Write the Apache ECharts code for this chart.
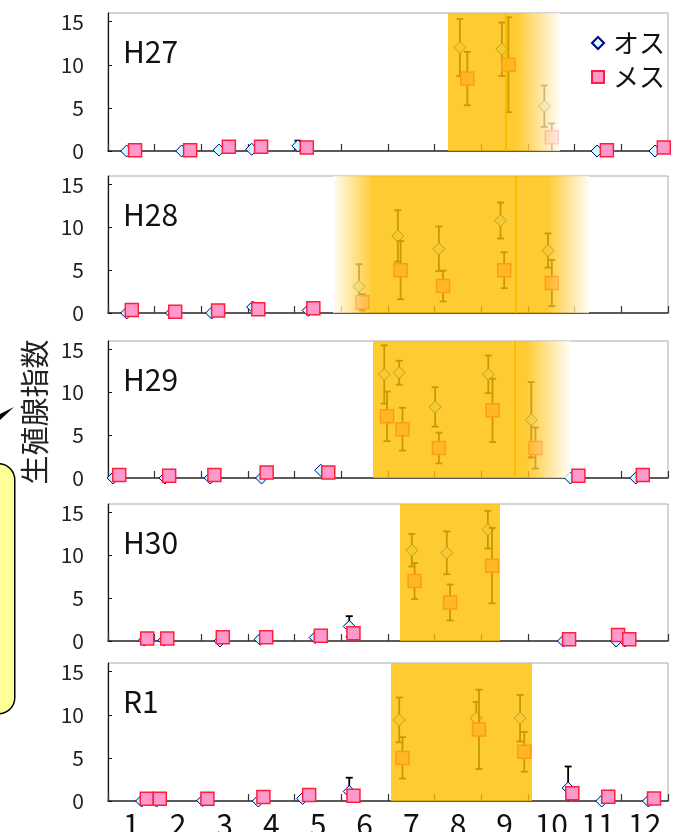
<!DOCTYPE html>
<html>
<head>
<meta charset="utf-8">
<title>生殖腺指数</title>
<script src="https://cdn.jsdelivr.net/npm/echarts@6/dist/echarts.min.js"></script>
<style>
html, body { margin: 0; padding: 0; background: #fff; }
#chart { width: 687px; height: 832px; }
</style>
</head>
<body>
<div id="chart"></div>
<script>
// 月ラベル
var monthLabels = ['1', '2', '3', '4', '5', '6', '7', '8', '9', '10', '11', '12'];
var panelNames = ['H27', 'H28', 'H29', 'H30', 'R1'];

// x = 月（0〜12、目盛りは月の境目）, y = 生殖腺指数, sd = 誤差
var h27MaleX = [0.40, 1.58, 2.38, 3.08, 4.07, 7.54, 8.44, 9.35, 10.48, 11.72];
var h27MaleY = [0.0, 0.0, 0.1, 0.2, 0.6, 12.0, 11.8, 5.2, 0.0, 0.0];
var h27MaleSd = [0, 0, 0, 0, 0.6, 3.3, 3.1, 2.4, 0, 0];
var h27FemaleX = [0.58, 1.76, 2.59, 3.28, 4.26, 7.70, 8.58, 9.51, 10.69, 11.91];
var h27FemaleY = [0.1, 0.1, 0.5, 0.5, 0.4, 8.4, 10.0, 1.6, 0.1, 0.4];
var h27FemaleSd = [0, 0, 0, 0, 0, 3.1, 5.5, 1.6, 0, 0];

var h28MaleX = [0.40, 1.36, 2.22, 3.10, 4.29, 5.38, 6.21, 7.09, 8.41, 9.43];
var h28MaleY = [0.0, 0.0, 0.0, 0.7, 0.3, 3.1, 9.0, 7.5, 10.8, 7.3];
var h28MaleSd = [0, 0, 0, 0, 0, 2.6, 3.0, 2.6, 2.1, 2.0];
var h28FemaleX = [0.51, 1.44, 2.36, 3.22, 4.40, 5.45, 6.27, 7.18, 8.49, 9.51];
var h28FemaleY = [0.35, 0.15, 0.3, 0.45, 0.55, 1.25, 5.0, 3.15, 5.0, 3.5];
var h28FemaleSd = [0, 0, 0, 0, 0, 0.95, 3.4, 1.8, 2.1, 2.7];

var h29MaleX = [0.11, 1.22, 2.19, 3.29, 4.56, 5.92, 6.24, 7.01, 8.15, 9.07, 9.91, 11.31];
var h29MaleY = [0.0, 0.0, 0.0, 0.0, 0.9, 12.1, 12.3, 8.3, 12.1, 6.8, 0.0, 0.0];
var h29MaleSd = [0, 0, 0, 0, 0, 3.4, 1.4, 2.3, 2.2, 4.4, 0, 0];
var h29FemaleX = [0.24, 1.31, 2.28, 3.40, 4.72, 5.98, 6.31, 7.09, 8.24, 9.16, 10.08, 11.46];
var h29FemaleY = [0.35, 0.25, 0.35, 0.65, 0.65, 7.2, 5.7, 3.5, 7.9, 3.5, 0.25, 0.35];
var h29FemaleSd = [0, 0, 0, 0, 0, 2.9, 2.5, 1.8, 3.7, 2.4, 0, 0];

var h30MaleX = [0.78, 1.20, 2.40, 3.26, 4.44, 5.17, 6.51, 7.26, 8.14, 9.76, 10.89, 11.08];
var h30MaleY = [0.1, 0.1, 0.0, 0.2, 0.4, 1.7, 10.6, 10.3, 13.0, 0.0, 0.0, 0.0];
var h30MaleSd = [0, 0, 0, 0, 0, 1.2, 1.9, 2.5, 2.2, 0, 0, 0];
var h30FemaleX = [0.84, 1.27, 2.46, 3.39, 4.56, 5.26, 6.57, 7.33, 8.23, 9.88, 10.93, 11.17];
var h30FemaleY = [0.3, 0.3, 0.45, 0.45, 0.6, 0.9, 7.0, 4.5, 8.8, 0.2, 0.7, 0.2];
var h30FemaleSd = [0, 0, 0, 0, 0, 0, 2.1, 2.1, 4.4, 0, 0, 0];

var r1MaleX = [0.72, 1.04, 2.03, 3.22, 4.17, 5.17, 6.24, 7.89, 8.83, 9.86, 10.58, 11.58];
var r1MaleY = [0.0, 0.0, 0.05, 0.0, 0.3, 1.1, 9.4, 9.6, 9.6, 1.5, 0.0, 0.0];
var r1MaleSd = [0, 0, 0, 0, 0, 1.6, 2.6, 1.9, 2.7, 2.5, 0, 0];
var r1FemaleX = [0.83, 1.11, 2.13, 3.33, 4.31, 5.26, 6.31, 7.95, 8.92, 9.95, 10.72, 11.70];
var r1FemaleY = [0.25, 0.25, 0.25, 0.45, 0.7, 0.6, 5.0, 8.3, 5.7, 0.9, 0.5, 0.3];
var r1FemaleSd = [0, 0, 0, 0, 0, 0, 2.4, 4.6, 2.3, 0, 0, 0];

// 産卵期の網掛け [開始, 終了, 種類]
var h27Shade = [[7.29, 8.53, 'solid'], [8.53, 9.69, 'fadeOut'], [8.53, 8.53, 'edge']];
var h28Shade = [[4.82, 5.68, 'fadeIn'], [5.68, 9.20, 'solid'], [9.20, 10.30, 'fadeOut'], [8.74, 8.74, 'edge']];
var h29Shade = [[5.68, 8.73, 'solid'], [8.73, 9.90, 'fadeOut'], [8.73, 8.73, 'edge']];
var h30Shade = [[6.26, 8.41, 'solid']];
var r1Shade = [[6.06, 9.08, 'solid']];

var maleX = [h27MaleX, h28MaleX, h29MaleX, h30MaleX, r1MaleX];
var maleY = [h27MaleY, h28MaleY, h29MaleY, h30MaleY, r1MaleY];
var maleSd = [h27MaleSd, h28MaleSd, h29MaleSd, h30MaleSd, r1MaleSd];
var femaleX = [h27FemaleX, h28FemaleX, h29FemaleX, h30FemaleX, r1FemaleX];
var femaleY = [h27FemaleY, h28FemaleY, h29FemaleY, h30FemaleY, r1FemaleY];
var femaleSd = [h27FemaleSd, h28FemaleSd, h29FemaleSd, h30FemaleSd, r1FemaleSd];
var shades = [h27Shade, h28Shade, h29Shade, h30Shade, r1Shade];

var FONT = "'Noto Sans CJK JP', 'Noto Sans', sans-serif";
var gridTops = [13, 176, 341, 504, 663];
var gridHeights = [138, 137, 137, 137, 138];
var ORANGE = 'rgba(255,190,0,0.8)';
var FADE_WHITE = 'rgba(255,252,245,0.8)';

function toPoints(xs, ys, sds) {
	var out = [];
	for (var i = 0; i < xs.length; i++) {
		out.push([xs[i], ys[i], sds[i]]);
	}
	return out;
}

// 誤差範囲
function renderErrorBar(params, api) {
	var sd = api.value(2);
	if (!sd) {
		return null;
	}
	var x = api.value(0);
	var y = api.value(1);
	var low = Math.max(0, y - sd);
	var top = api.coord([x, y + sd]);
	var bot = api.coord([x, low]);
	var cap = 3.5;
	var st = { stroke: '#000', lineWidth: 1.8 };
	var kids = [
		{ type: 'line', shape: { x1: top[0], y1: top[1], x2: bot[0], y2: bot[1] }, style: st },
		{ type: 'line', shape: { x1: top[0] - cap, y1: top[1], x2: top[0] + cap, y2: top[1] }, style: st }
	];
	if (y - sd > 0) {
		kids.push({ type: 'line', shape: { x1: bot[0] - cap, y1: bot[1], x2: bot[0] + cap, y2: bot[1] }, style: st });
	}
	return { type: 'group', children: kids };
}

// 網掛け（マーカーの上に半透明で重ねる）
function makeShadeRenderer(bands) {
	return function (params, api) {
		var band = bands[params.dataIndex];
		var cs = params.coordSys;
		// 整数に丸めて、隣り合う帯の継ぎ目が濃くならないようにする
		var x0 = Math.round(api.coord([band[0], 0])[0]);
		var x1 = Math.round(api.coord([band[1], 0])[0]);
		if (band[2] === 'edge') {
			return {
				type: 'line',
				shape: { x1: x0, y1: cs.y, x2: x0, y2: cs.y + cs.height },
				style: { stroke: 'rgba(255,185,0,0.95)', lineWidth: 2 }
			};
		}
		var fill = ORANGE;
		if (band[2] === 'fadeOut') {
			fill = new echarts.graphic.LinearGradient(0, 0, 1, 0, [
				{ offset: 0, color: ORANGE },
				{ offset: 0.2, color: ORANGE },
				{ offset: 1, color: FADE_WHITE }
			]);
		} else if (band[2] === 'fadeIn') {
			fill = new echarts.graphic.LinearGradient(0, 0, 1, 0, [
				{ offset: 0, color: FADE_WHITE },
				{ offset: 1, color: ORANGE }
			]);
		}
		return {
			type: 'rect',
			shape: { x: x0, y: cs.y, width: x1 - x0, height: cs.height },
			style: { fill: fill }
		};
	};
}

var grids = [], xAxes = [], yAxes = [], series = [], titles = [];
for (var i = 0; i < 5; i++) {
	grids.push({
		left: 108, right: 19, top: gridTops[i], height: gridHeights[i],
		show: true, borderColor: '#aaa', borderWidth: 1, backgroundColor: 'transparent',
		outerBoundsMode: 'none', containLabel: false
	});
	xAxes.push({
		type: 'value', gridIndex: i, min: 0, max: 12, interval: 1,
		axisLine: { show: true, lineStyle: { color: '#333', width: 1.5 } },
		axisTick: { show: true, inside: true, length: 7, lineStyle: { color: '#333', width: 1.2 } },
		axisLabel: { show: false },
		splitLine: { show: false }
	});
	yAxes.push({
		type: 'value', gridIndex: i, min: 0, max: 16, interval: 5,
		axisLine: { show: true, lineStyle: { color: '#111', width: 1.2 } },
		axisTick: { show: true, inside: true, length: 4, lineStyle: { color: '#111' } },
		axisLabel: { showMaxLabel: false, margin: 24, fontSize: 21, color: '#222', fontFamily: FONT },
		splitLine: { show: false }
	});
	titles.push({
		text: panelNames[i], left: 123, top: gridTops[i] + 24, padding: 0,
		textStyle: { fontSize: 30, fontWeight: 'normal', color: '#111', fontFamily: FONT }
	});
	series.push({
		name: 'err', type: 'custom', xAxisIndex: i, yAxisIndex: i, z: 2, silent: true,
		renderItem: renderErrorBar, data: toPoints(maleX[i], maleY[i], maleSd[i])
	});
	series.push({
		name: 'オス', type: 'scatter', xAxisIndex: i, yAxisIndex: i, z: 3,
		symbol: 'diamond', symbolSize: 12,
		itemStyle: { color: '#ccffff', borderColor: '#000080', borderWidth: 1, opacity: 1 },
		data: toPoints(maleX[i], maleY[i], maleSd[i])
	});
	series.push({
		name: 'err', type: 'custom', xAxisIndex: i, yAxisIndex: i, z: 4, silent: true,
		renderItem: renderErrorBar, data: toPoints(femaleX[i], femaleY[i], femaleSd[i])
	});
	series.push({
		name: 'メス', type: 'scatter', xAxisIndex: i, yAxisIndex: i, z: 5,
		symbol: 'rect', symbolSize: 13,
		itemStyle: { color: '#ff99cc', borderColor: '#ff1f3d', borderWidth: 1.5, opacity: 1 },
		data: toPoints(femaleX[i], femaleY[i], femaleSd[i])
	});
	series.push({
		name: 'shade', type: 'custom', xAxisIndex: i, yAxisIndex: i, z: 8, silent: true,
		renderItem: makeShadeRenderer(shades[i]), data: shades[i]
	});
}

// 月ラベル（下段のみ、月の中央に）
xAxes.push({
	type: 'category', gridIndex: 4, position: 'bottom', data: monthLabels, boundaryGap: true,
	axisLine: { show: false }, axisTick: { show: false },
	axisLabel: { margin: 9, fontSize: 30, color: '#111', fontFamily: FONT, interval: 0 }
});

var myChart = echarts.init(document.getElementById('chart'));
var option = {
	animation: false,
	backgroundColor: '#fff',
	title: titles,
	legend: {
		data: ['オス', 'メス'], orient: 'vertical', right: 17, top: 24,
		itemWidth: 12, itemHeight: 12, itemGap: 6, selectedMode: false,
		textStyle: { fontSize: 26, lineHeight: 28, color: '#111', fontFamily: FONT, padding: [0, 0, 0, 4] }
	},
	grid: grids,
	xAxis: xAxes,
	yAxis: yAxes,
	series: series,
	graphic: [
		{
			type: 'rect', left: -40, top: 463, z: 20,
			shape: { width: 54, height: 250, r: 16 },
			style: { fill: '#ffff99', stroke: '#000', lineWidth: 1.5 }
		},
		{
			type: 'polygon', z: 20,
			shape: { points: [[0, 414], [14, 407], [0, 420]] },
			style: { fill: '#000' }
		},
		{
			type: 'text', x: 35, y: 412, rotation: Math.PI / 2, z: 20,
			style: { text: '生殖腺指数', fontSize: 29, fontFamily: FONT, fill: '#222', align: 'center', verticalAlign: 'middle' }
		}
	]
};
myChart.setOption(option);
</script>
</body>
</html>
